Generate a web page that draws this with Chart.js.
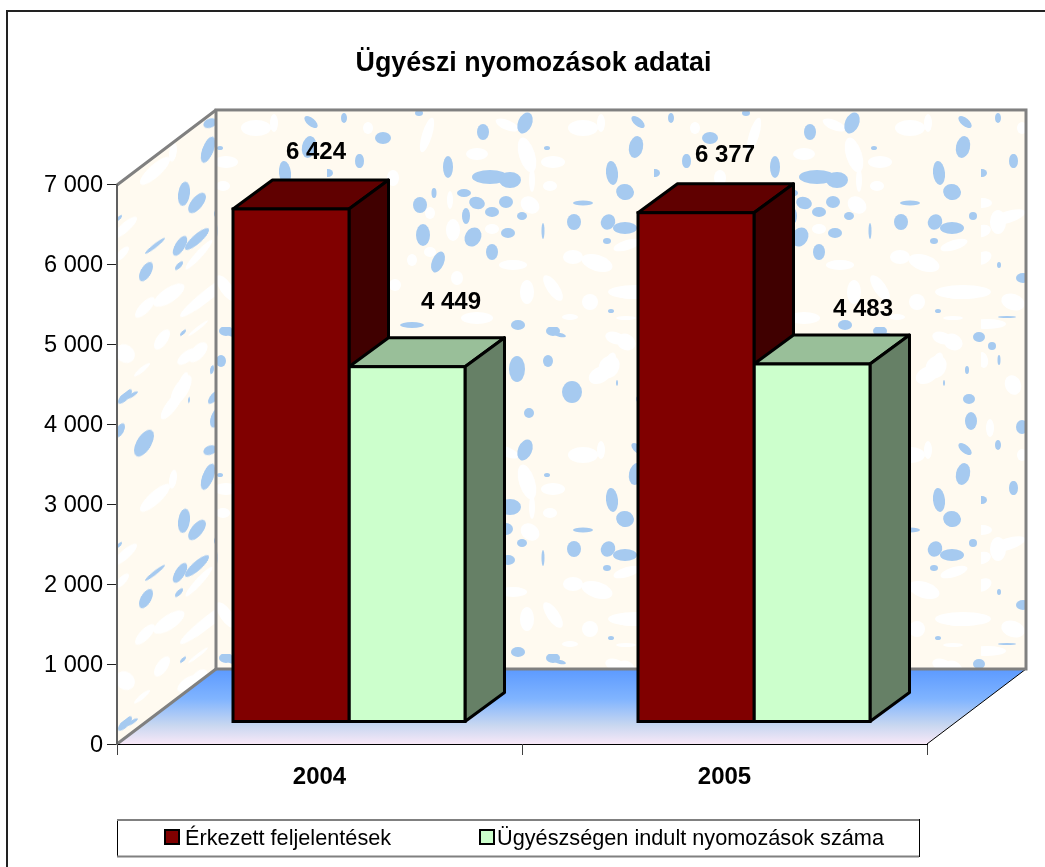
<!DOCTYPE html>
<html>
<head>
<meta charset="utf-8">
<style>
html, body { margin: 0; padding: 0; background: #fff; }
#wrap { position: relative; width: 1045px; height: 867px; overflow: hidden; }
</style>
<script src="https://cdn.jsdelivr.net/npm/chart.js@4"></script>
</head>
<body>
<div id="wrap"><canvas id="c" width="1045" height="867"></canvas></div>
<script>
var titleText = "Ügyészi nyomozások adatai";
var categories = ["2004", "2005"];
var seriesNames = ["Érkezett feljelentések", "Ügyészségen indult nyomozások száma"];
var received = [6424, 6377];
var started = [4449, 4483];
var receivedLabels = ["6 424", "6 377"];
var startedLabels = ["4 449", "4 483"];
var yTickLabels = ["0", "1 000", "2 000", "3 000", "4 000", "5 000", "6 000", "7 000"];

var font = "'Liberation Sans', Arial, sans-serif";

// wall texture: x, y, rx, ry, tilt (wraps every 327px)
var blueSpots = [
  [383,138,8,6,0],[359,161,4,7,0],[483,132,6,8,0],[525,123,7,11,0.4],[419,113,4,3,0],[448,167,5,11,0],
  [490,177,18,7,0],[510,180,11,8,0],[464,193,7,4,0],[434,193,2.5,5,0],[477,203,8,6,0.3],[492,212,7,5,0],
  [506,202,7,6,0],[466,216,4,8,0],[420,205,7,8,0],[522,216,5,4,0],[574,222,7,8,0],[473,237,8,10,0.5],
  [423,235,7,11,0],[508,233,7,5,0],[492,252,6,8,0],[438,262,6,11,0.4],[518,325,7,5,0],[553,331,7,5,0],
  [560,335,6,2,0.2],[412,325,12,3,0],[547,148,3,2,0],[583,203,10,2.5,0],[612,173,6,12,-0.1],[625,192,9,8,0.3],
  [636,147,7,11,0.2],[638,122,8,4,0.7],[608,222,7,8,0.5],[625,228,12,6,0],[607,241,4,3,0],[543,231,1.5,8,0],
  [611,311,3,2,0],[671,118,3,5,0],[687,161,4,7,0],[655,173,5,4,0],[646,216,4,4,0],[672,265,2,3,0],
  [696,278,7,5,0],[680,317,9,1,0],[652,337,6,5,0],[665,346,4,4,0],[672,360,1.5,5,0],[640,370,2,4,0],
  [617,383,1,3,0],[642,399,6,5,0],[644,421,6,9,0],[695,427,6,7,0],[517,369,8,13,0],[548,361,5,6,0],
  [572,392,10,11,0],[529,413,5,5,0]
];
var whiteSpots = [
  [368,128,5,6,0],[427,135,5,18,0.3],[477,154,11,6,0],[507,125,12,5,0.4],[527,155,8,18,-0.3],[553,162,12,6,0],
  [583,128,15,8,0],[601,123,4,9,0],[550,186,7,5,0],[532,180,3,12,0],[453,230,7,11,0],[492,229,7,5,0],
  [530,205,10,8,0.6],[450,200,3,9,0],[430,213,5,6,0],[393,178,6,8,0],[395,285,6,6,0],[457,278,6,7,0],
  [430,252,6,5,0],[412,260,5,6,0],[513,265,14,5,0],[527,292,7,12,0],[553,288,6,15,-0.6],[573,257,10,7,0],
  [597,263,16,8,0.3],[627,245,14,5,-0.3],[590,302,8,8,0],[630,294,14,5,0],[570,317,8,3,0],[477,318,16,6,0],
  [626,318,10,2,0],[655,203,10,5,0],[681,217,18,6,-0.3],[671,222,8,12,0],[655,231,9,6,-0.3],[656,258,9,6,-0.5],
  [636,292,28,7,0],[686,302,12,8,0.3],[660,324,19,5,0],[626,342,10,8,0.5],[656,360,5,8,-0.2],[600,375,12,8,-0.5],
  [610,362,5,10,0.4],[686,385,8,10,-0.4],[663,428,4,9,0],[609,367,10,12,0.6],[615,338,10,6,0.3]
];
var tileSize = 327;

function makeTile() {
  var tile = document.createElement("canvas");
  tile.width = tileSize;
  tile.height = tileSize;
  var t = tile.getContext("2d");
  t.fillStyle = "#fffaf0";
  t.fillRect(0, 0, tileSize, tileSize);
  function spots(list, colour) {
    t.fillStyle = colour;
    list.forEach(function (s) {
      var x = s[0] % tileSize, y = s[1] % tileSize;
      [0, -tileSize].forEach(function (dx) {
        [0, -tileSize].forEach(function (dy) {
          t.beginPath();
          t.ellipse(x + dx, y + dy, s[2], s[3], s[4], 0, Math.PI * 2);
          t.fill();
        });
      });
    });
  }
  spots(whiteSpots, "#ffffff");
  spots(blueSpots, "#a6caf0");
  return tile;
}

var depthX = 99, depthY = 75;       // room depth
var barShiftX = 29.5, barShiftY = 22; // bars stand inside the room
var barDepthX = 39.5, barDepthY = 29;
var tops = { "#800000": "#600000", "#ccffcc": "#99bf99" };
var sides = { "#800000": "#400000", "#ccffcc": "#668066" };
var labelOffsets = [[[25, -57], [29, -57]], [[44, -64], [51, -55]]];

var room = {
  id: "room",
  afterLayout: function (chart) {
    // title sits over the plot rather than the page
    chart.titleBlock.left += 70;
    chart.titleBlock.right += 70;
  },
  beforeDraw: function (chart) {
    var ctx = chart.ctx, a = chart.chartArea;
    var l = a.left, r = a.right, t = a.top, b = a.bottom;
    var pattern = ctx.createPattern(makeTile(), "repeat");

    ctx.save();
    // outer frame, runs off the page right and bottom
    ctx.fillStyle = "#222";
    ctx.fillRect(6, 10, 1039, 2);
    ctx.fillRect(6, 10, 2, 857);

    // back wall
    ctx.fillStyle = pattern;
    ctx.fillRect(l + depthX, t - depthY, r - l, b - t);

    // floor
    var g = ctx.createLinearGradient(0, b - depthY, 0, b);
    g.addColorStop(0, "#5c9aff");
    g.addColorStop(0.4, "#80b4ff");
    g.addColorStop(0.75, "#c8d7f0");
    g.addColorStop(1, "#f8e8f8");
    ctx.fillStyle = g;
    ctx.beginPath();
    ctx.moveTo(l, b);
    ctx.lineTo(r, b);
    ctx.lineTo(r + depthX, b - depthY);
    ctx.lineTo(l + depthX, b - depthY);
    ctx.closePath();
    ctx.fill();
    ctx.strokeStyle = "#000";
    ctx.lineWidth = 1;
    ctx.beginPath();
    ctx.moveTo(r, b);
    ctx.lineTo(r + depthX, b - depthY);
    ctx.stroke();

    // side wall, same texture sheared
    ctx.save();
    ctx.beginPath();
    ctx.moveTo(l, t);
    ctx.lineTo(l + depthX, t - depthY);
    ctx.lineTo(l + depthX, b - depthY);
    ctx.lineTo(l, b);
    ctx.closePath();
    ctx.clip();
    ctx.transform(1, -depthY / depthX, 0, 1, -428, 484.5);
    ctx.fillStyle = pattern;
    ctx.fillRect(0, 0, 2000, 2000);
    ctx.restore();

    // wall edges
    ctx.strokeStyle = "#808080";
    ctx.lineWidth = 3;
    ctx.strokeRect(l + depthX, t - depthY, r - l, b - t);
    ctx.beginPath();
    ctx.moveTo(l, t);
    ctx.lineTo(l + depthX, t - depthY);
    ctx.moveTo(l, b);
    ctx.lineTo(l + depthX, b - depthY);
    ctx.stroke();
    ctx.restore();
  },
  beforeDatasetsDraw: function (chart) {
    var ctx = chart.ctx;
    ctx.save();
    ctx.translate(barShiftX, -barShiftY);
    ctx.strokeStyle = "#000";
    ctx.lineWidth = 3;
    ctx.lineJoin = "round";
    chart.data.datasets.forEach(function (ds, i) {
      chart.getDatasetMeta(i).data.forEach(function (bar) {
        var x0 = bar.x - bar.width / 2, x1 = bar.x + bar.width / 2, y0 = bar.y, y1 = bar.base;
        ctx.fillStyle = tops[ds.backgroundColor];
        ctx.beginPath();
        ctx.moveTo(x0, y0);
        ctx.lineTo(x0 + barDepthX, y0 - barDepthY);
        ctx.lineTo(x1 + barDepthX, y0 - barDepthY);
        ctx.lineTo(x1, y0);
        ctx.closePath();
        ctx.fill();
        ctx.stroke();
        ctx.fillStyle = sides[ds.backgroundColor];
        ctx.beginPath();
        ctx.moveTo(x1, y0);
        ctx.lineTo(x1 + barDepthX, y0 - barDepthY);
        ctx.lineTo(x1 + barDepthX, y1 - barDepthY);
        ctx.lineTo(x1, y1);
        ctx.closePath();
        ctx.fill();
        ctx.stroke();
      });
    });
    ctx.restore();
  },
  beforeDatasetDraw: function (chart) {
    chart.ctx.save();
    chart.ctx.translate(barShiftX, -barShiftY);
  },
  afterDatasetDraw: function (chart, args) {
    var ctx = chart.ctx;
    // outline straddles the bar edge
    ctx.strokeStyle = "#000";
    ctx.lineWidth = 3;
    args.meta.data.forEach(function (bar) {
      ctx.strokeRect(bar.x - bar.width / 2, bar.y, bar.width, bar.base - bar.y);
    });
    ctx.restore();
  },
  afterDatasetsDraw: function (chart) {
    var ctx = chart.ctx;
    ctx.save();
    // value labels
    ctx.fillStyle = "#000";
    ctx.font = "bold 24px " + font;
    ctx.textAlign = "center";
    ctx.textBaseline = "middle";
    [receivedLabels, startedLabels].forEach(function (labels, i) {
      chart.getDatasetMeta(i).data.forEach(function (bar, j) {
        var off = labelOffsets[i][j];
        ctx.fillText(labels[j], bar.x + barShiftX + off[0], bar.y - barShiftY + off[1]);
      });
    });

    // legend box
    ctx.fillStyle = "#fff";
    ctx.fillRect(117, 819, 802, 37);
    ctx.strokeStyle = "#000";
    ctx.lineWidth = 1;
    ctx.strokeRect(117.5, 819.5, 802, 37);
    ctx.strokeStyle = "#808080";
    ctx.lineWidth = 2;
    ctx.beginPath();
    ctx.moveTo(117, 820);
    ctx.lineTo(919, 820);
    ctx.moveTo(117, 856.5);
    ctx.lineTo(919, 856.5);
    ctx.stroke();
    var keyX = [165, 480], textX = [185, 497];
    ctx.font = "21.7px " + font;
    ctx.textAlign = "left";
    seriesNames.forEach(function (name, i) {
      ctx.fillStyle = chart.data.datasets[i].backgroundColor;
      ctx.fillRect(keyX[i], 830, 14, 14);
      ctx.strokeStyle = "#000";
      ctx.lineWidth = 2;
      ctx.strokeRect(keyX[i], 830, 14, 14);
      ctx.fillStyle = "#000";
      ctx.fillText(name, textX[i], 839);
    });
    ctx.restore();
  }
};

new Chart(document.getElementById("c"), {
  type: "bar",
  data: {
    labels: categories,
    datasets: [
      { label: seriesNames[0], data: received, backgroundColor: "#800000", borderWidth: 0 },
      { label: seriesNames[1], data: started, backgroundColor: "#ccffcc", borderWidth: 0 }
    ]
  },
  options: {
    responsive: false,
    animation: false,
    datasets: { bar: { barPercentage: 1, categoryPercentage: 232 / 405 } },
    layout: { padding: { left: 0, right: 118, top: 0, bottom: 63 } },
    plugins: {
      legend: { display: false },
      tooltip: { enabled: false },
      title: {
        display: true,
        text: titleText,
        color: "#000",
        font: { family: font, size: 26.8, weight: "bold" },
        padding: { top: 48, bottom: 104.8 }
      }
    },
    scales: {
      x: {
        grid: { offset: true, drawOnChartArea: false, color: "#404040", tickLength: 11 },
        border: { color: "#000" },
        ticks: { color: "#000", padding: 8, font: { family: font, size: 24, weight: "bold" }, maxRotation: 0 },
        afterFit: function (s) { s.height = 60; }
      },
      y: {
        min: 0,
        max: 7000,
        grid: { drawOnChartArea: false, color: "#202020", tickLength: 10 },
        border: { color: "#606060", width: 2 },
        ticks: {
          stepSize: 1000,
          color: "#000",
          padding: 4,
          labelOffset: 1,
          font: { family: font, size: 23.6 },
          callback: function (v, i) { return yTickLabels[i]; }
        },
        afterFit: function (s) { s.width = 117; }
      }
    }
  },
  plugins: [room]
});
</script>
</body>
</html>
